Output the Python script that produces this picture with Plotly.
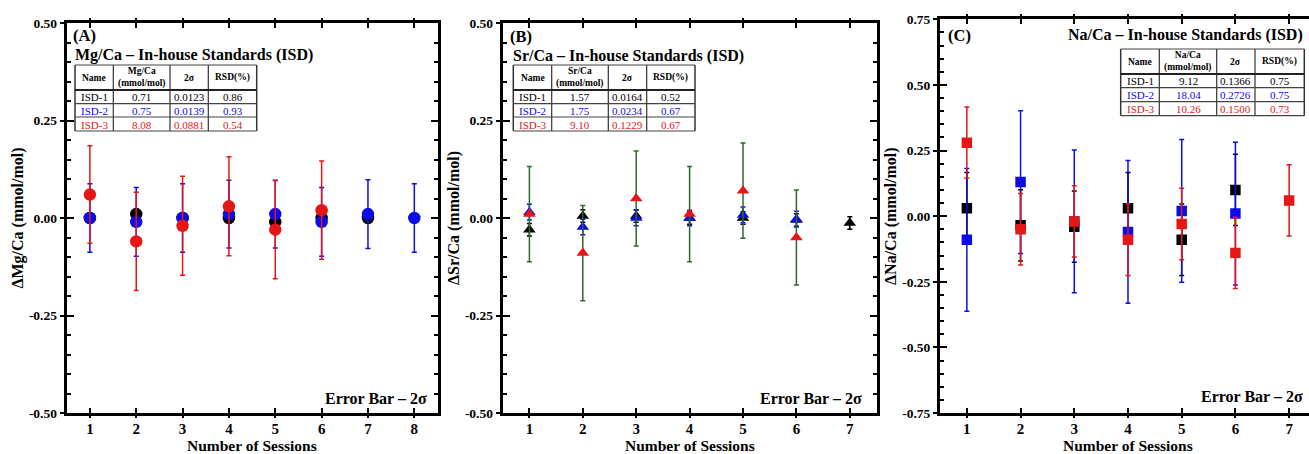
import plotly.graph_objects as go

W, H = 1309, 454

# ---------------- data ----------------
# Panel A : Mg/Ca
mg_isd1_x = [1, 2, 3, 4, 5, 6, 7]
mg_isd1_y = [0.0, 0.01, 0.0, 0.0, -0.01, 0.0, 0.0]
mg_isd1_e = [0.012, 0.012, 0.012, 0.012, 0.012, 0.012, 0.012]
mg_isd2_x = [1, 2, 3, 4, 5, 6, 7, 8]
mg_isd2_y = [0.0, -0.01, 0.0, 0.01, 0.01, -0.01, 0.01, 0.0]
mg_isd2_e = [0.088, 0.088, 0.088, 0.087, 0.087, 0.088, 0.088, 0.088]
mg_isd3_x = [1, 2, 3, 4, 5, 6]
mg_isd3_y = [0.06, -0.06, -0.02, 0.03, -0.03, 0.02]
mg_isd3_e = [0.125, 0.126, 0.127, 0.127, 0.126, 0.126]

# Panel B : Sr/Ca
sr_isd1_x = [1, 2, 3, 4, 5, 6, 7]
sr_isd1_y = [-0.03, 0.005, 0.005, 0.0, 0.0, -0.005, -0.013]
sr_isd1_e = [0.016, 0.016, 0.016, 0.016, 0.016, 0.016, 0.016]
sr_isd2_x = [1, 2, 3, 4, 5, 6]
sr_isd2_y = [0.015, -0.023, 0.0, 0.0, 0.008, -0.003]
sr_isd2_e = [0.02, 0.02, 0.02, 0.02, 0.02, 0.02]
sr_isd3_x = [1, 2, 3, 4, 5, 6]
sr_isd3_y = [0.01, -0.09, 0.05, 0.01, 0.07, -0.05]
sr_isd3_e = [0.122, 0.122, 0.122, 0.122, 0.122, 0.122]

# Panel C : Na/Ca
na_isd1_x = [1, 2, 3, 4, 5, 6]
na_isd1_y = [0.03, -0.035, -0.04, 0.03, -0.09, 0.10]
na_isd1_e = [0.136, 0.136, 0.136, 0.136, 0.136, 0.136]
na_isd2_x = [1, 2, 3, 4, 5, 6]
na_isd2_y = [-0.09, 0.13, -0.02, -0.06, 0.02, 0.01]
na_isd2_e = [0.272, 0.272, 0.272, 0.272, 0.272, 0.272]
na_isd3_x = [1, 2, 3, 4, 5, 6, 7]
na_isd3_y = [0.28, -0.05, -0.02, -0.09, -0.03, -0.14, 0.06]
na_isd3_e = [0.136, 0.136, 0.136, 0.136, 0.136, 0.136, 0.136]

# tables
table_names = ["ISD-1", "ISD-2", "ISD-3"]
mg_table_val = ["0.71", "0.75", "8.08"]
mg_table_2s = ["0.0123", "0.0139", "0.0881"]
mg_table_rsd = ["0.86", "0.93", "0.54"]
sr_table_val = ["1.57", "1.75", "9.10"]
sr_table_2s = ["0.0164", "0.0234", "0.1229"]
sr_table_rsd = ["0.52", "0.67", "0.67"]
na_table_val = ["9.12", "18.04", "10.26"]
na_table_2s = ["0.1366", "0.2726", "0.1500"]
na_table_rsd = ["0.75", "0.75", "0.73"]

# ---------------- style ----------------
BLACK = "#000000"
BLUE = "#0c0ce6"
RED = "#e41616"
GREEN = "#2c6a2c"
FONT = "Liberation Serif"
row_colors = [BLACK, BLUE, RED]


def px(x):
    return x / W


def py(y):
    return 1 - y / H


fig = go.Figure()


def add_series(xs, ys, es, color, symbol, size, xa, ya, ecolor=None):
    fig.add_trace(go.Scatter(
        x=xs, y=ys, mode="markers", xaxis=xa, yaxis=ya, showlegend=False,
        marker=dict(color=color, symbol=symbol, size=size, line=dict(width=0)),
        error_y=dict(type="data", array=es, visible=True,
                     color=ecolor or color, thickness=1.5, width=2.5),
    ))


# Panel A
add_series(mg_isd1_x, mg_isd1_y, mg_isd1_e, BLACK, "circle", 12.5, "x", "y")
add_series(mg_isd2_x, mg_isd2_y, mg_isd2_e, BLUE, "circle", 12.5, "x", "y")
add_series(mg_isd3_x, mg_isd3_y, mg_isd3_e, RED, "circle", 12.5, "x", "y")
# Panel B
add_series(sr_isd1_x, sr_isd1_y, sr_isd1_e, BLACK, "triangle-up", 11, "x2", "y2")
add_series(sr_isd2_x, sr_isd2_y, sr_isd2_e, BLUE, "triangle-up", 11, "x2", "y2")
add_series(sr_isd3_x, sr_isd3_y, sr_isd3_e, RED, "triangle-up", 11, "x2", "y2", ecolor=GREEN)
# Panel C
add_series(na_isd1_x, na_isd1_y, na_isd1_e, BLACK, "square", 10.5, "x3", "y3")
add_series(na_isd2_x, na_isd2_y, na_isd2_e, BLUE, "square", 10.5, "x3", "y3")
add_series(na_isd3_x, na_isd3_y, na_isd3_e, RED, "square", 10.5, "x3", "y3")

tickfont_x = dict(family=FONT, size=15, color="black", weight="bold")
tickfont_y = dict(family=FONT, size=13.5, color="black", weight="bold")
titlefont = dict(family=FONT, size=16, color="black", weight="bold")

panels = [
    dict(xd=(66.7, 437.5), yd=(23, 413), xr=[0.5, 8.5], yr=[-0.5, 0.5],
         yt=[-0.5, -0.25, 0.0, 0.25, 0.5], ytitle="ΔMg/Ca (mmol/mol)", mirror=True,
         xt=[1, 2, 3, 4, 5, 6, 7, 8]),
    dict(xd=(502.7, 876.5), yd=(23, 413), xr=[0.5, 7.5], yr=[-0.5, 0.5],
         yt=[-0.5, -0.25, 0.0, 0.25, 0.5], ytitle="ΔSr/Ca (mmol/mol)", mirror=True,
         xt=[1, 2, 3, 4, 5, 6, 7]),
    dict(xd=(940, 1309), yd=(19.3, 413), xr=[0.5, 7.37], yr=[-0.75, 0.75],
         yt=[-0.75, -0.5, -0.25, 0.0, 0.25, 0.5, 0.75], ytitle="ΔNa/Ca (mmol/mol)", mirror=False,
         xt=[1, 2, 3, 4, 5, 6, 7]),
]

annotations = []
shapes = []


def text(x, y, s, size, bold=True, color="black", xanchor="left", yanchor="middle"):
    annotations.append(dict(
        x=px(x), y=py(y), xref="paper", yref="paper", text=s, showarrow=False,
        xanchor=xanchor, yanchor=yanchor,
        font=dict(family=FONT, size=size, color=color, weight="bold" if bold else "normal"),
    ))


layout_axes = {}
for i, p in enumerate(panels):
    n = i + 1
    sfx = "" if n == 1 else str(n)
    xdom = [px(p["xd"][0]), px(p["xd"][1])]
    ydom = [py(p["yd"][1]), py(p["yd"][0])]
    ytext = ["%.2f" % v for v in p["yt"]]
    layout_axes["xaxis" + sfx] = dict(
        domain=xdom, range=p["xr"], anchor="y" + sfx, tickmode="array",
        tickvals=p["xt"], ticktext=[str(v) for v in p["xt"]],
        ticks="inside", ticklen=5, tickwidth=2, tickcolor="black",
        showline=True, linewidth=3, linecolor="black", mirror="allticks",
        showgrid=False, zeroline=False, tickfont=tickfont_x, automargin=False,
        ticklabelstandoff=0,
    )
    layout_axes["yaxis" + sfx] = dict(
        domain=ydom, range=p["yr"], anchor="x" + sfx, tickmode="array",
        tickvals=p["yt"], ticktext=ytext,
        ticks="outside", ticklen=4, tickwidth=2, tickcolor="black",
        showline=True, linewidth=3, linecolor="black",
        mirror=True if p["mirror"] else False,
        showgrid=False, zeroline=False, tickfont=tickfont_y, automargin=False,
        title=dict(text=p["ytitle"], font=titlefont, standoff=2),
    )
    # overlay axes to create the other half of crossing ticks
    ox = str(n + 3)
    layout_axes["xaxis" + ox] = dict(
        overlaying="x" + sfx, anchor="y" + sfx, range=p["xr"], tickmode="array",
        tickvals=p["xt"], showticklabels=False, ticks="outside", ticklen=4, tickwidth=2,
        tickcolor="black", showline=False, mirror="allticks", showgrid=False,
        zeroline=False, automargin=False,
    )
    layout_axes["yaxis" + ox] = dict(
        overlaying="y" + sfx, anchor="x" + sfx, range=p["yr"], tickmode="array",
        tickvals=p["yt"], showticklabels=False, ticks="inside", ticklen=7, tickwidth=2,
        tickcolor="black", showline=False,
        mirror="allticks" if p["mirror"] else False,
        minor=dict(ticks="inside", ticklen=4, tickwidth=1.5, tickcolor="black",
                   tick0=0, dtick=0.05, showgrid=False),
        showgrid=False, zeroline=False, automargin=False,
    )
    # x-axis title
    text((p["xd"][0] + p["xd"][1]) / 2 if n < 3 else (940 + 1316) / 2, 445.5,
         "Number of Sessions", 15.5, xanchor="center")

# dummy invisible traces so overlay axes are drawn
for i in range(3):
    n = i + 4
    fig.add_trace(go.Scatter(x=[None], y=[None], xaxis="x" + str(n), yaxis="y" + str(n),
                             showlegend=False, hoverinfo="skip"))


def table(cols, rows, header, val, sig, rsd):
    for k, xv in enumerate(cols):
        shapes.append(dict(type="line", xref="paper", yref="paper",
                           x0=px(xv), x1=px(xv), y0=py(rows[0]), y1=py(rows[-1]),
                           line=dict(color="#333333", width=1.5 if k in (0, len(cols) - 1) else 1.2)))
    for k, yv in enumerate(rows):
        shapes.append(dict(type="line", xref="paper", yref="paper",
                           x0=px(cols[0]), x1=px(cols[-1]), y0=py(yv), y1=py(yv),
                           line=dict(color="#222222" if k == 1 else "#444444",
                                     width=2 if k == 1 else 1.2)))
    for c in range(4):
        cx = (cols[c] + cols[c + 1]) / 2
        text(cx, (rows[0] + rows[1]) / 2, header[c], 9.5, True, xanchor="center")
    for r in range(3):
        cy = (rows[r + 1] + rows[r + 2]) / 2 + 0.5
        vals = [table_names[r], val[r], sig[r], rsd[r]]
        for c in range(4):
            cx = (cols[c] + cols[c + 1]) / 2
            text(cx, cy, vals[c], 11, False, color=row_colors[r], xanchor="center")


# Panel A texts
text(71, 36, "(A)", 16.5)
text(73, 55, "Mg/Ca – In-house Standards (ISD)", 16)
table([75, 113.3, 170, 208.3, 256.7], [65, 90, 103.7, 117, 131],
      ["Name", "Mg/Ca<br>(mmol/mol)", "2σ", "RSD(%)"], mg_table_val, mg_table_2s, mg_table_rsd)
text(429, 398, "Error Bar – 2σ", 16, xanchor="right")

# Panel B texts
text(508, 37, "(B)", 16.5)
text(511, 56, "Sr/Ca – In-house Standards (ISD)", 16)
table([513.3, 551.7, 608.3, 646.7, 695], [65, 90, 103.7, 117, 131],
      ["Name", "Sr/Ca<br>(mmol/mol)", "2σ", "RSD(%)"], sr_table_val, sr_table_2s, sr_table_rsd)
text(864, 398, "Error Bar – 2σ", 16, xanchor="right")

# Panel C texts
text(946, 35, "(C)", 16.5)
text(1305, 35, "Na/Ca – In-house Standards (ISD)", 16, xanchor="right")
table([1120.7, 1159.3, 1216.7, 1255, 1304.3], [49, 74, 87.7, 101.7, 115.7],
      ["Name", "Na/Ca<br>(mmol/mol)", "2σ", "RSD(%)"], na_table_val, na_table_2s, na_table_rsd)
text(1305, 396, "Error Bar – 2σ", 16, xanchor="right")

fig.update_layout(
    width=W, height=H, margin=dict(l=0, r=0, t=0, b=0),
    paper_bgcolor="white", plot_bgcolor="white", showlegend=False,
    annotations=annotations, shapes=shapes, **layout_axes,
)

fig.write_html("out.html")
